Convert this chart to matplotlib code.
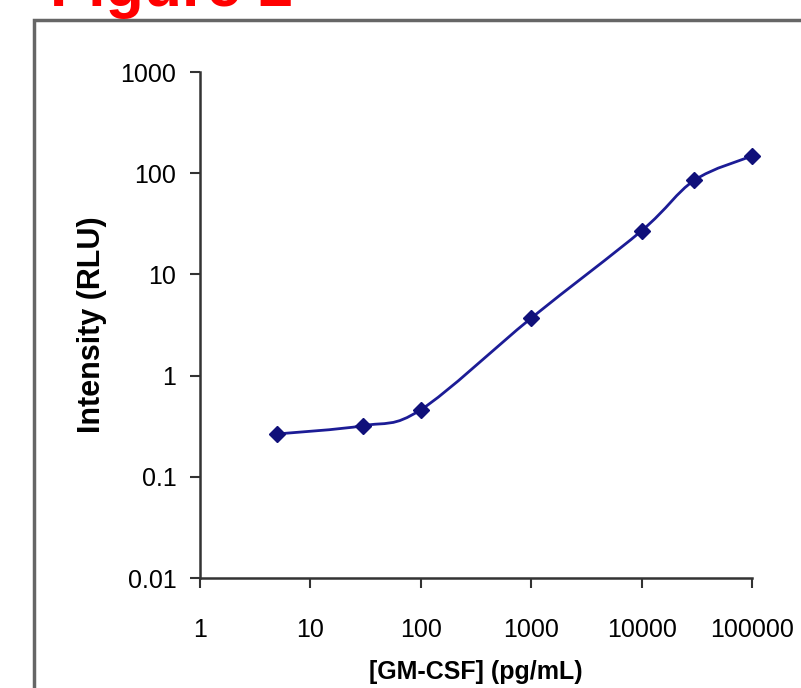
import numpy as np
import matplotlib.pyplot as plt
from matplotlib.path import Path
from matplotlib.patches import PathPatch, Rectangle

plt.rcParams['font.family'] = ['Liberation Sans', 'DejaVu Sans']

# GM-CSF standard curve
conc = [5, 30, 100, 1000, 10000, 30000, 100000]
intensity = [0.265, 0.32, 0.46, 3.7, 27, 85, 148]
xticks = [1, 10, 100, 1000, 10000, 100000]
yticks = [0.01, 0.1, 1, 10, 100, 1000]

fig = plt.figure(figsize=(8.01, 6.88), dpi=100)
ax = fig.add_axes([200 / 801, 110 / 688, 552 / 801, 506 / 688])
ax.set_xscale('log')
ax.set_yscale('log')
ax.set_xlim(1, 100000)
ax.set_ylim(0.01, 1000)

# smoothed line (Excel style) as bezier segments in log space
lx = np.log10(conc)
ly = np.log10(intensity)
pts = np.column_stack([lx, ly])
verts = [pts[0]]
codes = [Path.MOVETO]
n = len(pts)
for i in range(n - 1):
    p0 = pts[i - 1] if i > 0 else pts[i]
    p3 = pts[i + 2] if i + 2 < n else pts[i + 1]
    c1 = pts[i] + (pts[i + 1] - p0) / 6
    c2 = pts[i + 1] - (p3 - pts[i]) / 6
    verts += [c1, c2, pts[i + 1]]
    codes += [Path.CURVE4] * 3
verts = 10 ** np.array(verts)
ax.add_patch(PathPatch(Path(verts, codes), facecolor='none',
                       edgecolor='#1c1c96', lw=2, clip_on=False))
ax.plot(conc, intensity, 'D', color='#10107a', ms=8, ls='none', clip_on=False)

ax.set_xticks(xticks)
ax.set_xticklabels([str(v) for v in xticks])
ax.set_yticks(yticks)
ax.set_yticklabels(['0.01', '0.1', '1', '10', '100', '1000'])
ax.minorticks_off()
ax.tick_params(axis='both', labelsize=18, length=7, width=1.5, color='#333333')
ax.tick_params(axis='x', pad=22)
ax.tick_params(axis='y', pad=10)
for s in ['top', 'right']:
    ax.spines[s].set_visible(False)
for s in ['left', 'bottom']:
    ax.spines[s].set_linewidth(1.8)
    ax.spines[s].set_color('#333333')

ax.set_xlabel('[GM-CSF] (pg/mL)', fontsize=18, fontweight='bold', labelpad=13)
ax.set_ylabel('Intensity (RLU)', fontsize=22, fontweight='bold', labelpad=10)

# outer frame and title
fig.patches.append(Rectangle((34 / 801, -0.1), 1.0, 0.1 + 1 - 20 / 688,
                             transform=fig.transFigure, fill=False,
                             edgecolor='#666666', lw=2.5))
fig.text(50 / 801, 1 - 6 / 688, 'Figure 2', color='#ff0000', fontsize=45,
         fontweight='bold', va='baseline', ha='left')

fig.savefig('out.png', dpi=100)
